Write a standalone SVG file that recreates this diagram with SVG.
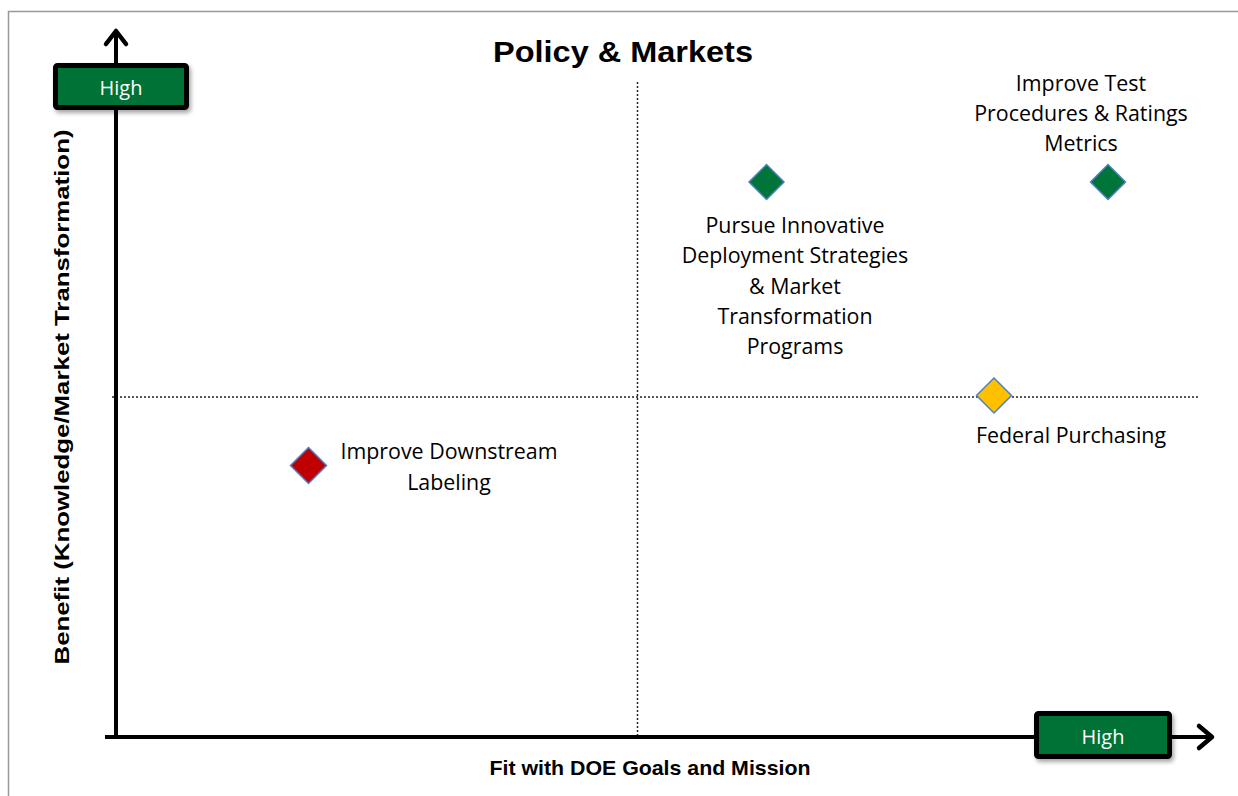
<svg xmlns="http://www.w3.org/2000/svg" width="1238" height="796" viewBox="0 0 1238 796">
<defs>
<filter id="sh" x="-10%" y="-20%" width="130%" height="150%"><feDropShadow dx="2" dy="3" stdDeviation="2" flood-color="#000" flood-opacity="0.35"/></filter>
</defs>
<style>
.lbl{font-family:"Open Sans","Liberation Sans",sans-serif;font-size:21.4px;fill:#000;text-anchor:middle}
.ax{font-family:"Liberation Sans",Arial,sans-serif;font-weight:bold;font-size:21px;fill:#000;text-anchor:middle}
.hi{font-family:"Open Sans","Liberation Sans",sans-serif;font-size:20px;fill:#fff;text-anchor:middle}
.box{fill:#007236;stroke:#000;stroke-width:5}
.dot{stroke:#222;stroke-width:1.5;stroke-dasharray:2 2;fill:none}
.axis{stroke:#000;stroke-width:4;fill:none}
.arr{stroke:#000;stroke-width:4.5;fill:none;stroke-linecap:round;stroke-linejoin:round}
.dm{stroke:#4F81BD;stroke-width:1.5}
</style>
<rect width="1238" height="796" fill="#fff"/>
<path d="M8.5 796 V11.5 H1238" fill="none" stroke="#999" stroke-width="1.5"/>
<text x="623" y="62" font-family="Liberation Sans,Arial,sans-serif" font-weight="bold" font-size="29" text-anchor="middle" textLength="260" lengthAdjust="spacingAndGlyphs">Policy &amp; Markets</text>
<g id="connectors">
<line class="dot" x1="637.5" y1="82" x2="637.5" y2="735"/>
<line class="dot" x1="112" y1="397" x2="1198" y2="397"/>
<line class="axis" x1="116" y1="33" x2="116" y2="739"/>
<line class="axis" x1="105" y1="737" x2="1210" y2="737"/>
<path class="arr" d="M106 44 L116 31 L126 44"/>
<path class="arr" d="M1199 726 L1212 737 L1199 748"/>
</g>
<g id="y-high"><rect class="box" x="55.5" y="65.5" width="131" height="42" rx="2" filter="url(#sh)"/><text class="hi" x="121" y="95">High</text></g>
<g id="x-high"><rect class="box" x="1036.5" y="713.5" width="133" height="43" rx="2" filter="url(#sh)"/><text class="hi" x="1103" y="744">High</text></g>
<text class="ax" x="650" y="775" textLength="321" lengthAdjust="spacingAndGlyphs">Fit with DOE Goals and Mission</text>
<text class="ax" transform="translate(69,397) rotate(-90)" x="0" y="0" textLength="535" lengthAdjust="spacingAndGlyphs">Benefit (Knowledge/Market Transformation)</text>
<g id="n-test">
<polygon class="dm" fill="#00753A" points="1108,164.5 1125.5,182 1108,199.5 1090.5,182"/>
<text class="lbl" x="1081" y="91">Improve Test</text>
<text class="lbl" x="1081" y="121">Procedures &amp; Ratings</text>
<text class="lbl" x="1081" y="151">Metrics</text>
</g>
<g id="n-pursue">
<polygon class="dm" fill="#00753A" points="766.5,164.5 784,182 766.5,199.5 749,182"/>
<text class="lbl" x="795" y="233">Pursue Innovative</text>
<text class="lbl" x="795" y="263">Deployment Strategies</text>
<text class="lbl" x="795" y="294">&amp; Market</text>
<text class="lbl" x="795" y="324">Transformation</text>
<text class="lbl" x="795" y="354">Programs</text>
</g>
<g id="n-federal">
<polygon class="dm" fill="#FFC000" points="994,378 1011.5,395.5 994,413 976.5,395.5"/>
<text class="lbl" x="1071" y="443">Federal Purchasing</text>
</g>
<g id="n-label">
<polygon class="dm" fill="#C00000" points="308.5,447.5 326.5,465.5 308.5,483.5 290.5,465.5"/>
<text class="lbl" x="449" y="459">Improve Downstream</text>
<text class="lbl" x="449" y="490">Labeling</text>
</g>
</svg>
